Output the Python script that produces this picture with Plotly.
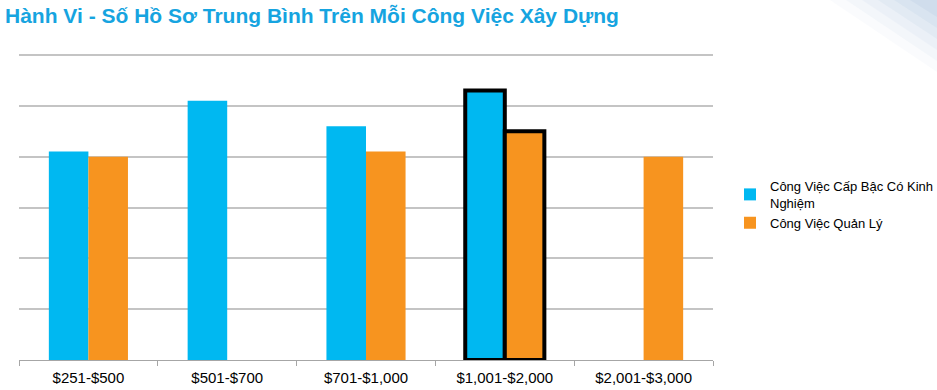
import plotly.graph_objects as go

categories = ["$251-$500", "$501-$700", "$701-$1,000", "$1,001-$2,000", "$2,001-$3,000"]
senior_values = [4.1, 5.1, 4.6, 5.3, None]
manager_values = [4.0, None, 4.1, 4.5, 4.0]
highlight = [0, 0, 0, 4, 0]

series_names = ["Công Việc Cấp Bậc Có Kinh<br>Nghiệm", "Công Việc Quản Lý"]

fig = go.Figure()
fig.add_trace(go.Bar(x=categories, y=senior_values, name=series_names[0],
                     marker=dict(color="#00b8f1", line=dict(color="black", width=highlight))))
fig.add_trace(go.Bar(x=categories, y=manager_values, name=series_names[1],
                     marker=dict(color="#f7941f", line=dict(color="black", width=highlight))))

W, H = 937, 390
# pixel layout of the plot area
L_px, R_px, T_px, B_px = 19, 713, 40, 360
grid_top_px = 55
unit_px = (B_px - grid_top_px) / 6.0
y_max = (B_px - T_px) / unit_px

L, T = L_px, T_px
R = W - R_px
B = H - B_px
pw, ph = W - L - R, H - T - B

def px(x):
    return (x - L) / pw

def py(y):
    return (B_px - y) / ph

shapes = []
for i, a in enumerate([0.04, 0.05, 0.06, 0.07, 0.08, 0.09]):
    x0 = 830 + i * 16
    shapes.append(dict(type="path", xref="paper", yref="paper",
                       path=f"M {px(x0)},{py(0)} L {px(937)},{py(0)} L {px(937)},{py(72 - i*11)} Z",
                       fillcolor=f"rgba(120,160,200,{a})", line=dict(width=0), layer="below"))

fig.update_layout(
    width=W, height=H,
    margin=dict(l=L, r=R, t=T, b=B, autoexpand=False),
    paper_bgcolor="white", plot_bgcolor="white",
    barmode="group", bargap=0.43, bargroupgap=0,
    title=dict(text="<b>Hành Vi - Số Hồ Sơ Trung Bình Trên Mỗi Công Việc Xây Dựng</b>",
               x=5 / W, xref="container", xanchor="left",
               y=1 - 16 / H, yref="container", yanchor="middle",
               pad=dict(l=0, r=0, t=0, b=0),
               font=dict(family="Liberation Sans, Arial", size=21, color="#16a4e0")),
    showlegend=True,
    legend=dict(x=px(730), y=py(171), xanchor="left", yanchor="top",
                font=dict(family="Liberation Sans, Arial", size=13, color="black"),
                itemwidth=30, tracegroupgap=2, bgcolor="rgba(0,0,0,0)"),
    shapes=shapes,
    xaxis=dict(type="category", showline=True, linecolor="#a6a6a6", linewidth=1,
               ticks="outside", tickson="boundaries", ticklen=5, tickcolor="#a6a6a6",
               ticklabelstandoff=4,
               tickfont=dict(family="Liberation Sans, Arial", size=15, color="black"),
               showgrid=False),
    yaxis=dict(range=[0, y_max], dtick=1, showticklabels=False, showgrid=True,
               gridcolor="#c4c4c4", gridwidth=2, zeroline=False, showline=False, fixedrange=True),
)

fig.write_html("out.html", config={"displayModeBar": False},
               post_script="document.body.style.margin='0';document.body.style.overflow='hidden';")
